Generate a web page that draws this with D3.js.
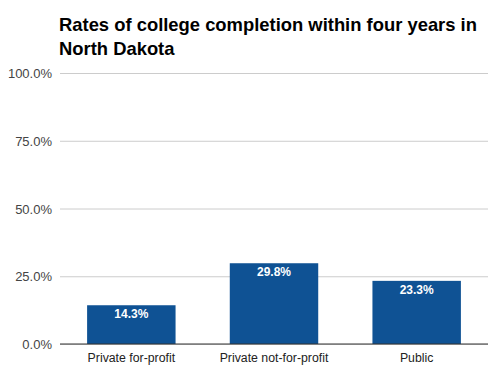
<!DOCTYPE html>
<html><head><meta charset="utf-8">
<script src="https://cdn.jsdelivr.net/npm/d3@7"></script>
<style>body{margin:0;background:#fff}svg{display:block}</style>
</head><body>
<script>
const categories = ["Private for-profit", "Private not-for-profit", "Public"];
const values = [14.3, 29.8, 23.3];
const tickValues = [0, 25, 50, 75, 100];
const titleLines = ["Rates of college completion within four years in", "North Dakota"];

const W = 503, H = 378;
const m = {left: 60, right: 15, top: 73, bottom: 34};
const FONT = "'Liberation Sans', Arial, sans-serif";
const svg = d3.select("body").append("svg").attr("width", W).attr("height", H);

const x = d3.scaleBand().domain(categories).range([m.left, W - m.right]).paddingInner(0.38).paddingOuter(0.19);
const y = d3.scaleLinear().domain([0, 100]).range([H - m.bottom, m.top]);

svg.append("g").selectAll("text").data(titleLines).join("text")
  .attr("x", 59).attr("y", (d, i) => 31 + i * 24)
  .attr("font-family", FONT).attr("font-weight", "bold")
  .attr("font-size", 18.4).attr("fill", "#000").text(d => d);

const yAxis = d3.axisLeft(y).tickValues(tickValues).tickSize(-(W - m.right - m.left)).tickFormat(d => d3.format(".1f")(d) + "%");
const gy = svg.append("g").attr("transform", `translate(${m.left},0)`).call(yAxis);
gy.select(".domain").remove();
gy.selectAll(".tick line").attr("stroke", "#ccc");
gy.selectAll(".tick text").attr("x", -8).attr("dy", "0.35em")
  .attr("font-family", FONT).attr("font-size", 13).attr("fill", "#444");

svg.append("g").selectAll("rect").data(values).join("rect")
  .attr("x", (d, i) => x(categories[i])).attr("width", x.bandwidth())
  .attr("y", d => y(d)).attr("height", d => y(0) - y(d)).attr("fill", "#0f5294");

svg.append("g").selectAll("text").data(values).join("text")
  .attr("x", (d, i) => x(categories[i]) + x.bandwidth() / 2).attr("y", d => y(d) + 13)
  .attr("text-anchor", "middle").attr("font-family", FONT)
  .attr("font-weight", "bold").attr("font-size", 12).attr("fill", "#fff").text(d => d.toFixed(1) + "%");

svg.append("line").attr("x1", m.left).attr("x2", W - m.right).attr("y1", y(0)).attr("y2", y(0))
  .attr("stroke", "#333").attr("stroke-width", 1);

const xAxis = d3.axisBottom(x).tickSize(0);
const gx = svg.append("g").attr("transform", `translate(0,${y(0)})`).call(xAxis);
gx.select(".domain").remove();
gx.selectAll(".tick text").attr("y", 9).attr("dy", "0.71em")
  .attr("font-family", FONT).attr("font-size", 12.3).attr("fill", "#222");
</script>
</body></html>
